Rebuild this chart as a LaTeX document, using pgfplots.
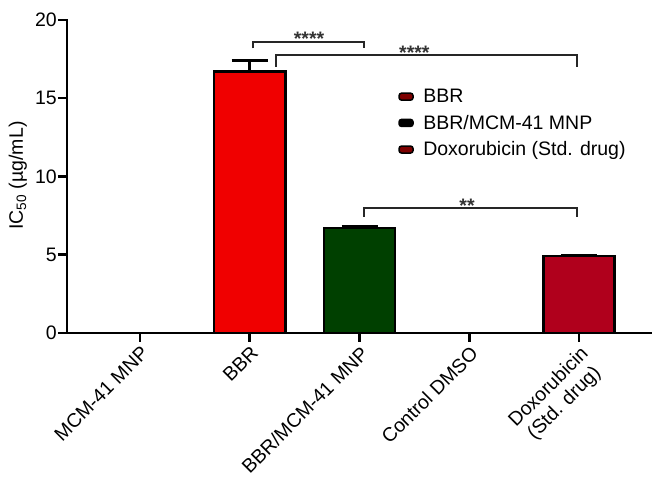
\documentclass[border=0pt]{standalone}
\usepackage{fontspec}
\setmainfont{Liberation Sans}
\usepackage{pgfplots}
\pgfplotsset{compat=1.18}

\definecolor{bbrred}{RGB}{240,0,0}
\definecolor{nanogreen}{RGB}{0,64,0}
\definecolor{doxred}{RGB}{176,0,28}
\definecolor{keyred}{RGB}{125,0,0}
\newcommand{\chartfont}{\fontsize{19.5}{22}\selectfont}

\begin{document}
\begin{tikzpicture}
\begin{axis}[
  width=585pt, height=313pt, scale only axis,
  xmin=-0.665, xmax=4.665, ymin=0, ymax=20,
  clip=false,
  axis x line=bottom, axis y line=left,
  axis line style={-, line width=2.5pt, line cap=rect},
  tick align=outside, major tick length=9pt,
  major tick style={black, line width=2.5pt},
  xtick={0,1,2,3,4},
  xticklabels={MCM-41 MNP, BBR, BBR/MCM-41 MNP, Control DMSO, {Doxorubicin\\(Std. drug)}},
  x tick label style={rotate=45, anchor=north east, align=center, font=\chartfont, inner sep=2pt},
  ytick={0,5,10,15,20},
  y tick label style={font=\chartfont, inner sep=1pt},
  /pgf/number format/assume math mode=true,
  ylabel={IC\textsubscript{50} (µg/mL)},
  every axis y label/.style={at={(axis description cs:-0.084,0.503)}, rotate=90, anchor=center, font=\chartfont},
  ybar, bar width=0.65, bar shift=0pt,
  legend style={at={(axis description cs:0.566,0.786)}, anchor=north west, draw=none, fill=none,
    font=\chartfont, row sep=7pt, inner sep=0pt},
  legend cell align=left,
  error bars/y dir=plus, error bars/y explicit,
  error bars/error mark=|,
  error bars/error bar style={line width=2.5pt, black},
  error bars/error mark options={line width=2.5pt, black, mark size=18pt},
]
\addplot[fill=bbrred, draw=black, line width=2.5pt,
  legend image code/.code={\draw[line width=1.5pt, draw=black, fill=keyred, rounded corners=2.5pt] (0pt,-3.5pt) rectangle (14pt,3.5pt); \path (21pt,0pt);}]
  coordinates {(1,16.7) +- (0,0.7)};
\addlegendentry{BBR}
\addplot[fill=nanogreen, draw=black, line width=2.5pt,
  legend image code/.code={\draw[line width=1.5pt, draw=black, fill=black, rounded corners=2.5pt] (0pt,-3.5pt) rectangle (14pt,3.5pt); \path (21pt,0pt);}]
  coordinates {(2,6.7) +- (0,0.1)};
\addlegendentry{BBR/MCM-41 MNP}
\addplot[fill=doxred, draw=black, line width=2.5pt,
  legend image code/.code={\draw[line width=1.5pt, draw=black, fill=keyred, rounded corners=2.5pt] (0pt,-3.5pt) rectangle (14pt,3.5pt); \path (21pt,0pt);}]
  coordinates {(4,4.92) +- (0,0.06)};
\addlegendentry{Doxorubicin (Std. drug)}

% significance brackets
\draw[line width=1.8pt, black!85] (axis cs:1.03,18.19) -- (axis cs:1.03,18.61) -- (axis cs:2.04,18.61) -- (axis cs:2.04,18.19);
\node[font=\chartfont\bfseries, text=black!80, anchor=base, inner sep=0pt] at (axis cs:1.54,18.35) {****};
\draw[line width=1.8pt, black!85] (axis cs:1.24,17.0) -- (axis cs:1.24,17.76) -- (axis cs:3.98,17.76) -- (axis cs:3.98,17.0);
\node[font=\chartfont\bfseries, text=black!80, anchor=base, inner sep=0pt] at (axis cs:2.5,17.5) {****};
\draw[line width=1.8pt, black!85] (axis cs:2.04,7.43) -- (axis cs:2.04,7.99) -- (axis cs:3.98,7.99) -- (axis cs:3.98,7.43);
\node[font=\chartfont\bfseries, text=black!80, anchor=base, inner sep=0pt] at (axis cs:2.98,7.73) {**};

\coordinate (sw) at (rel axis cs:0,0);
\coordinate (ne) at (rel axis cs:1,1);
\end{axis}
\pgfresetboundingbox
\path[use as bounding box] ([xshift=-67pt,yshift=-146pt]sw) rectangle ([yshift=20pt]ne);
\end{tikzpicture}
\end{document}
